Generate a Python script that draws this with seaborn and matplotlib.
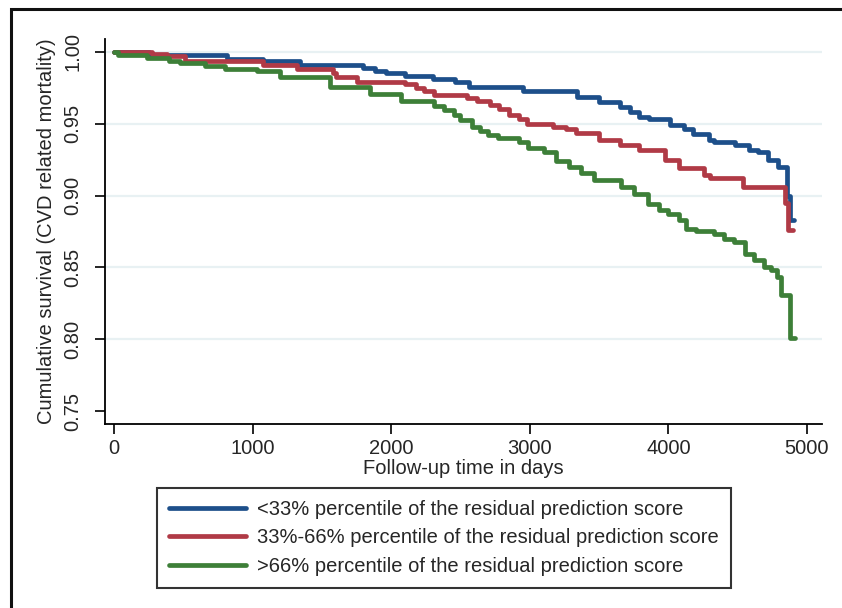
import numpy as np
import pandas as pd
import matplotlib.pyplot as plt
import seaborn as sns
from matplotlib.patches import Rectangle

# Kaplan-Meier style step curves (time in days, survival)
low_t = [0, 250, 815, 1075, 1340, 1800, 1880, 1960, 2100, 2300, 2460, 2560, 2950,
         3340, 3500, 3650, 3720, 3790, 3860, 4010, 4110, 4180, 4290, 4330, 4480,
         4580, 4650, 4720, 4790, 4855, 4880, 4905]
low_s = [1.000, 0.998, 0.995, 0.9937, 0.991, 0.989, 0.987, 0.985, 0.983, 0.981, 0.979,
         0.9756, 0.973, 0.9686, 0.965, 0.9616, 0.958, 0.955, 0.953, 0.949, 0.946, 0.943,
         0.939, 0.937, 0.935, 0.932, 0.930, 0.925, 0.920, 0.900, 0.883, 0.883]

mid_t = [0, 275, 380, 515, 1075, 1320, 1580, 1600, 1750, 2100, 2180, 2240, 2310, 2550,
         2620, 2710, 2780, 2850, 2920, 2980, 3170, 3260, 3330, 3500, 3650, 3790, 3975,
         4080, 4260, 4300, 4540, 4840, 4860, 4900]
mid_s = [1.000, 0.9986, 0.997, 0.9935, 0.991, 0.988, 0.9855, 0.9825, 0.979, 0.978, 0.975,
         0.973, 0.970, 0.968, 0.966, 0.963, 0.960, 0.956, 0.953, 0.9495, 0.948, 0.946,
         0.9435, 0.939, 0.9355, 0.932, 0.925, 0.919, 0.914, 0.9125, 0.906, 0.895, 0.876, 0.876]

high_t = [0, 30, 240, 400, 475, 660, 800, 1030, 1200, 1560, 1850, 2070, 2310, 2380, 2450,
          2500, 2580, 2640, 2700, 2770, 2920, 2990, 3100, 3190, 3280, 3370, 3460, 3660,
          3750, 3850, 3930, 4000, 4080, 4130, 4200, 4330, 4400, 4470, 4550, 4620, 4690,
          4740, 4780, 4810, 4880, 4910]
high_s = [1.000, 0.998, 0.996, 0.994, 0.992, 0.990, 0.988, 0.9865, 0.9825, 0.9755, 0.9705,
          0.966, 0.9625, 0.9595, 0.956, 0.9525, 0.948, 0.945, 0.9425, 0.940, 0.937, 0.933,
          0.930, 0.924, 0.920, 0.916, 0.911, 0.906, 0.901, 0.894, 0.890, 0.887, 0.883,
          0.877, 0.875, 0.873, 0.870, 0.868, 0.859, 0.855, 0.850, 0.848, 0.843, 0.831,
          0.801, 0.801]

groups = ["<33% percentile of the residual prediction score",
          "33%-66% percentile of the residual prediction score",
          ">66% percentile of the residual prediction score"]
colors = ["#1d4f8a", "#b03a46", "#3d7f38"]
x_ticks = [0, 1000, 2000, 3000, 4000, 5000]
y_ticks = [0.75, 0.80, 0.85, 0.90, 0.95, 1.00]

df = pd.concat([
    pd.DataFrame({"time": low_t, "surv": low_s, "group": groups[0]}),
    pd.DataFrame({"time": mid_t, "surv": mid_s, "group": groups[1]}),
    pd.DataFrame({"time": high_t, "surv": high_s, "group": groups[2]}),
])

sns.set_style("white")
plt.rcParams["font.family"] = ["Liberation Sans", "DejaVu Sans"]
fs = 14.5

fig = plt.figure(figsize=(8.42, 6.08), dpi=100)
ax = fig.add_axes([0.1247, 0.3026, 0.8515, 0.6333])

sns.lineplot(data=df, x="time", y="surv", hue="group", palette=colors,
             estimator=None, drawstyle="steps-post", linewidth=3.4, ax=ax)

ax.set_xlim(-65, 5108)
ax.set_ylim(0.741, 1.009)
ax.set_xticks(x_ticks)
ax.set_yticks(y_ticks)
ax.set_yticklabels([f"{v:.2f}" for v in y_ticks], rotation=90, va="center")
ax.tick_params(axis="both", direction="out", length=7, width=1.2, labelsize=fs,
               left=True, bottom=True, color="black")
ax.tick_params(axis="y", pad=9.5)
ax.tick_params(axis="x", pad=4)
ax.set_xlabel("Follow-up time in days", fontsize=fs, labelpad=0.5)
ax.set_ylabel("Cumulative survival (CVD related mortality)", fontsize=fs, labelpad=5)

ax.yaxis.grid(True, color="#e8f1f3", linewidth=1.6)
ax.get_ygridlines()[0].set_visible(False)
ax.set_axisbelow(True)
for side in ["top", "right"]:
    ax.spines[side].set_visible(False)
for side in ["left", "bottom"]:
    ax.spines[side].set_color("black")
    ax.spines[side].set_linewidth(1.3)

handles, labels = ax.get_legend_handles_labels()
ax.get_legend().remove()
leg = fig.legend(handles, labels, loc="upper left", bbox_to_anchor=(0.1865, 0.198),
                 fontsize=fs, frameon=True, fancybox=False, handlelength=3.8,
                 handletextpad=0.55, labelspacing=0.48, borderpad=0.6, borderaxespad=0)
leg.get_frame().set_edgecolor("black")
leg.get_frame().set_linewidth(1.5)
for line in leg.get_lines():
    line.set_linewidth(3.4)

# outer frame of the original panel (top and left edges visible)
fig.patches.append(Rectangle((0.013, -0.05), 1.2, 1.036, transform=fig.transFigure,
                             fill=False, edgecolor="#111111", linewidth=2.2))

fig.savefig("out.png", dpi=100)
